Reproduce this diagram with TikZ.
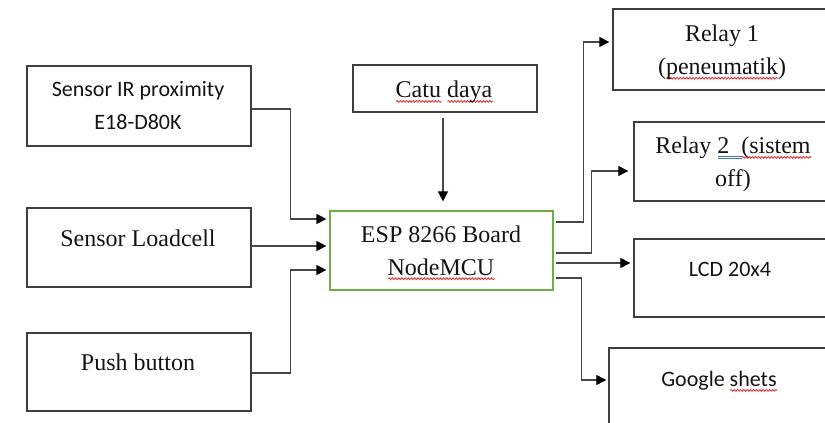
\documentclass[tikz,border=0pt]{standalone}
\usepackage{fontspec}
\setmainfont{Liberation Serif}
\newfontfamily\calibrifont{Carlito}
\usetikzlibrary{arrows.meta,decorations.pathmorphing}
\definecolor{bord}{HTML}{3F3F3F}
\definecolor{lin}{HTML}{474747}
\definecolor{grn}{HTML}{70AD47}
\definecolor{txt}{HTML}{141414}
\definecolor{wred}{HTML}{E02828}
\definecolor{wblue}{HTML}{4472C4}
\newlength\wvlen
\newcommand\wavy[1]{\settowidth\wvlen{#1}\rlap{\raisebox{-5pt}{\tikz[x=1pt,y=1pt]\draw[wred,line width=0.8pt,decorate,decoration={snake,amplitude=0.9pt,segment length=3.2pt}] (0,0) -- (\wvlen,0);}}#1}
\newcommand\dblu[1]{\settowidth\wvlen{#1}\rlap{\raisebox{-4.5pt}{\tikz[x=1pt,y=1pt]\draw[wblue,line width=0.6pt] (0,0)--(\wvlen,0) (0,1.8)--(\wvlen,1.8);}}#1}
\begin{document}
\begin{tikzpicture}[x=1pt,y=-1pt,
  box/.style={draw=bord, line width=1.4pt, rectangle, inner sep=0pt, fill=white},
  conn/.style={draw=lin, line width=1.3pt, -{Triangle[length=10pt,width=10pt,color=black]}},
  serif/.style={font=\fontsize{24}{33}\selectfont, text=txt, align=center, inner sep=0pt},
  sans/.style={font=\fontsize{22}{33}\calibrifont, text=txt, align=center, inner sep=0pt}]
\useasboundingbox (0,0) rectangle (825,423);
\fill[white] (0,0) rectangle (825,423);

% boxes
\node[box, minimum width=224pt, minimum height=80pt] (ir) at (139,106) {};
\node[box, minimum width=224pt, minimum height=79pt] (lc) at (139,247.5) {};
\node[box, minimum width=224pt, minimum height=78pt] (pb) at (139,372) {};
\node[box, minimum width=184pt, minimum height=47pt] (cd) at (445,88.5) {};
\node[box, draw=grn, line width=1.2pt, minimum width=223pt, minimum height=79pt] (esp) at (441.5,250.5) {};
\node[box, minimum width=214pt, minimum height=81pt] (r1) at (720,49.5) {};
\node[box, minimum width=193pt, minimum height=79pt] (r2) at (730.5,161.5) {};
\node[box, minimum width=193pt, minimum height=78pt] (lcd) at (730.5,278) {};
\node[box, minimum width=218pt, minimum height=97pt] (gs) at (718,396.5) {};

% texts (anchor=base is the baseline of the last line)
\node[sans, anchor=base] (irt) at (138,129) {Sensor IR proximity\\E18-D80K};
\node[serif, anchor=base] (lct) at (138,246.7) {Sensor Loadcell};
\node[serif, anchor=base] (pbt) at (138,370.7) {Push button};
\node[serif, anchor=base] (cdt) at (444,97.7) {\wavy{Catu} \wavy{daya}};
\node[serif, anchor=base] (espt) at (441,275) {ESP 8266 Board\\\wavy{NodeMCU}};
\node[serif, anchor=base] (r1t) at (722,74.5) {Relay 1\\(\wavy{peneumatik})};
\node[serif, anchor=base] (r2t) at (733,186.7) {Relay \dblu{2\ \ }\wavy{(sistem}\\off)};
\node[sans, anchor=base] (lcdt) at (730,276) {LCD 20x4};
\node[sans, anchor=base] (gst) at (719,386.7) {Google \wavy{shets}};

% connectors
\draw[conn] ([yshift=-3pt]ir.east) -- ++(39,0) |- ([xshift=-3pt,yshift=31.5pt]esp.west);
\draw[conn] ([yshift=1.5pt]lc.east) -- ([xshift=-3pt,yshift=4.5pt]esp.west);
\draw[conn] ([yshift=-1pt]pb.east) -- ++(39,0) |- ([xshift=-3pt,yshift=-19.5pt]esp.west);
\draw[conn] ([xshift=-2pt,yshift=-5pt]cd.south) -- ([xshift=1.5pt,yshift=9pt]esp.north);
\draw[conn] ([xshift=2pt,yshift=28.5pt]esp.east) -- ++(28,0) |- ([xshift=-3pt,yshift=7.5pt]r1.west);
\draw[conn] ([xshift=2pt,yshift=-2.5pt]esp.east) -- ++(36,0) |- ([xshift=-5pt,yshift=-9.5pt]r2.west);
\draw[conn] ([xshift=2pt,yshift=-12.5pt]esp.east) -- ([xshift=-3pt,yshift=15pt]lcd.west);
\draw[conn] ([xshift=2pt,yshift=-27.5pt]esp.east) -- ++(26,0) |- ([xshift=-2pt,yshift=16.5pt]gs.west);
\end{tikzpicture}
\end{document}
